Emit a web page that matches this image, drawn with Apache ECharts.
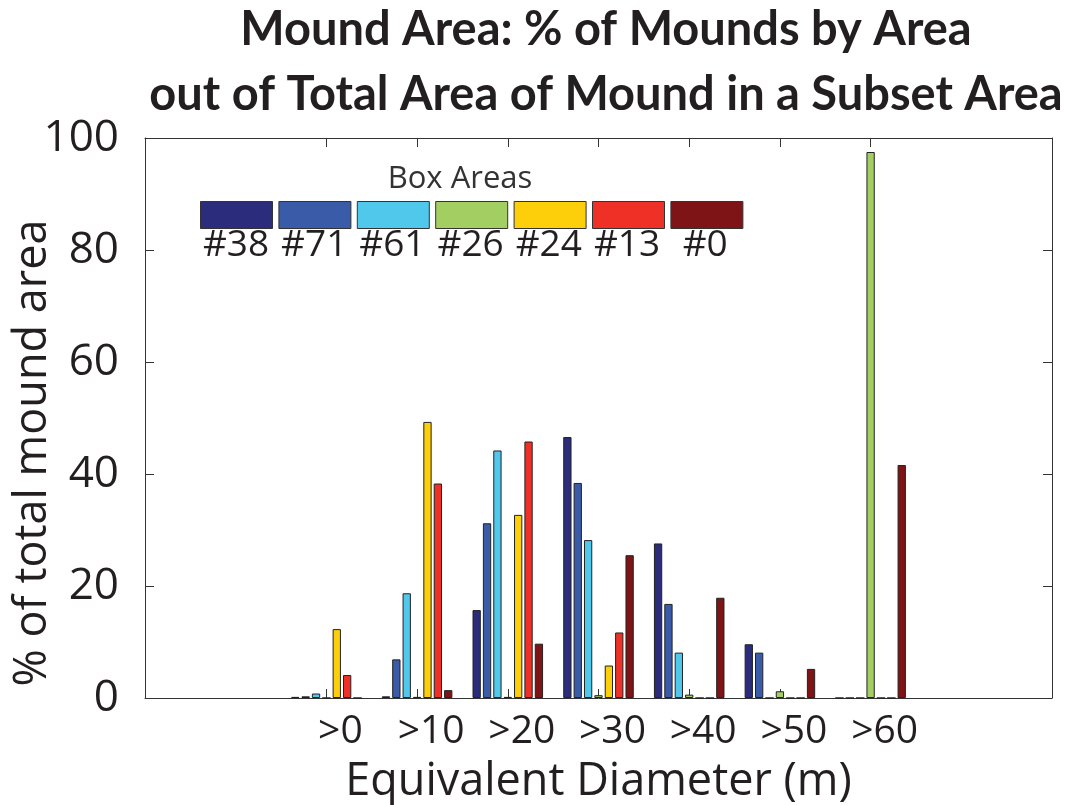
<!DOCTYPE html>
<html>
<head>
<meta charset="utf-8">
<script src="https://cdn.jsdelivr.net/npm/echarts@6/dist/echarts.min.js"></script>
<style>
html,body{margin:0;padding:0;background:#fff;}
#chart{width:1070px;height:805px;}
</style>
</head>
<body>
<div id="chart"></div>
<script>
// Category positions (equivalent diameter bins, m) and their labels
const binValues = [0, 10, 20, 30, 40, 50, 60];
const binLabels = ['>0', '>10', '>20', '>30', '>40', '>50', '>60'];
const yTicks = [0, 20, 40, 60, 80, 100];

// Series names (box areas)
const seriesNames = ['#38', '#71', '#61', '#26', '#24', '#13', '#0'];

// % of total mound area, per bin
const box38 = [0.2, 0.3, 15.7, 46.6, 27.6, 9.6, 0];
const box71 = [0.3, 6.9, 31.2, 38.4, 16.8, 8.1, 0];
const box61 = [0.8, 18.7, 44.2, 28.2, 8.1, 0, 0];
const box26 = [0, 0.2, 0.2, 0.5, 0.6, 1.2, 97.5];
const box24 = [12.3, 49.3, 32.7, 5.8, 0, 0, 0];
const box13 = [4.1, 38.3, 45.8, 11.7, 0, 0, 0];
const box0  = [0, 1.4, 9.7, 25.5, 17.9, 5.2, 41.6];

const colors = ['#2b2c7c', '#3a5ba8', '#50c8ec', '#a3cf62', '#fdce0a', '#ef3026', '#7f1416'];
const seriesValues = [box38, box71, box61, box26, box24, box13, box0];

const textColor = '#231f20';
const lineColor = '#333333';
const tickFont = 'Open Sans';

const chart = echarts.init(document.getElementById('chart'), null, {renderer: 'canvas'});

const series = seriesNames.map((name, i) => ({
  name: name,
  type: 'bar',
  xAxisIndex: 0,
  yAxisIndex: 0,
  barWidth: 8.3,
  barGap: '25%',
  data: binValues.map((b, j) => [b, seriesValues[i][j]]),
  itemStyle: {color: colors[i], borderColor: '#222', borderWidth: 1},
  emphasis: {disabled: true},
  animation: false
}));

// legend label texts placed under the legend boxes
const legendLeft = 195, legendItemW = 72, legendPitch = 78.2;
const legendTexts = seriesNames.map((n, i) => ({
  type: 'text',
  x: legendLeft + 5 + i * legendPitch + legendItemW / 2,
  y: 227,
  style: {text: n, fill: textColor, font: '37px "Open Sans"', textAlign: 'center', textVerticalAlign: 'top'},
  silent: true
}));

const option = {
  backgroundColor: '#ffffff',
  animation: false,
  title: {
    text: 'Mound Area: % of Mounds by Area\nout of Total Area of Mound in a Subset Area',
    left: 601,
    top: -8,
    textAlign: 'center',
    textStyle: {fontFamily: 'Lato', fontWeight: 'bold', fontSize: 47, lineHeight: 65, color: textColor}
  },
  legend: {
    left: legendLeft,
    top: 196,
    orient: 'horizontal',
    itemWidth: legendItemW,
    itemHeight: 27,
    itemGap: 5.4,
    icon: 'rect',
    formatter: () => '',
    selectedMode: false,
    data: seriesNames,
    itemStyle: {borderColor: '#333', borderWidth: 1}
  },
  graphic: [
    {type: 'text', x: 460, y: 179,
     style: {text: 'Box Areas', fill: '#333', font: '31px "Open Sans"', textAlign: 'center', textVerticalAlign: 'middle'},
     silent: true}
  ].concat(legendTexts),
  grid: {left: 145, right: 18, top: 138, bottom: 107, containLabel: false, outerBoundsMode: 'none'},
  xAxis: [
    {
      type: 'value', position: 'bottom', min: -20, max: 80, interval: 10,
      name: 'Equivalent Diameter (m)', nameLocation: 'middle', nameGap: 62, nameMoveOverlap: false,
      nameTextStyle: {fontFamily: tickFont, fontSize: 45, color: textColor},
      axisLine: {show: true, onZero: false, lineStyle: {color: lineColor, width: 1}},
      axisTick: {show: true, inside: true, length: 9, customValues: binValues, lineStyle: {color: lineColor}},
      axisLabel: {
        customValues: binValues,
        formatter: v => binLabels[binValues.indexOf(v)] || '',
        fontFamily: tickFont, fontSize: 39, color: textColor, margin: 14,
        padding: [0, 0, 0, 28]
      },
      splitLine: {show: false}
    },
    {
      type: 'value', position: 'top', min: -20, max: 80, interval: 10,
      axisLine: {show: true, onZero: false, lineStyle: {color: lineColor, width: 1}},
      axisTick: {show: true, inside: true, length: 9, customValues: binValues, lineStyle: {color: lineColor}},
      axisLabel: {show: false},
      splitLine: {show: false}
    }
  ],
  yAxis: [
    {
      type: 'value', position: 'left', min: 0, max: 100, interval: 20,
      name: '% of total mound area', nameLocation: 'middle', nameGap: 89, nameMoveOverlap: false,
      nameTextStyle: {fontFamily: tickFont, fontSize: 45, color: textColor, padding: [0, 70, 0, 0]},
      axisLine: {show: true, onZero: false, lineStyle: {color: lineColor, width: 1}},
      axisTick: {show: true, inside: true, length: 9, lineStyle: {color: lineColor}},
      axisLabel: {
        fontFamily: tickFont, fontSize: 44, color: textColor, margin: 26,
        formatter: v => (yTicks.indexOf(v) >= 0 ? String(v) : '')
      },
      splitLine: {show: false}
    },
    {
      type: 'value', position: 'right', min: 0, max: 100, interval: 20,
      axisLine: {show: true, onZero: false, lineStyle: {color: lineColor, width: 1}},
      axisTick: {show: true, inside: true, length: 9, lineStyle: {color: lineColor}},
      axisLabel: {show: false},
      splitLine: {show: false}
    }
  ],
  series: series
};

chart.setOption(option);
</script>
</body>
</html>
